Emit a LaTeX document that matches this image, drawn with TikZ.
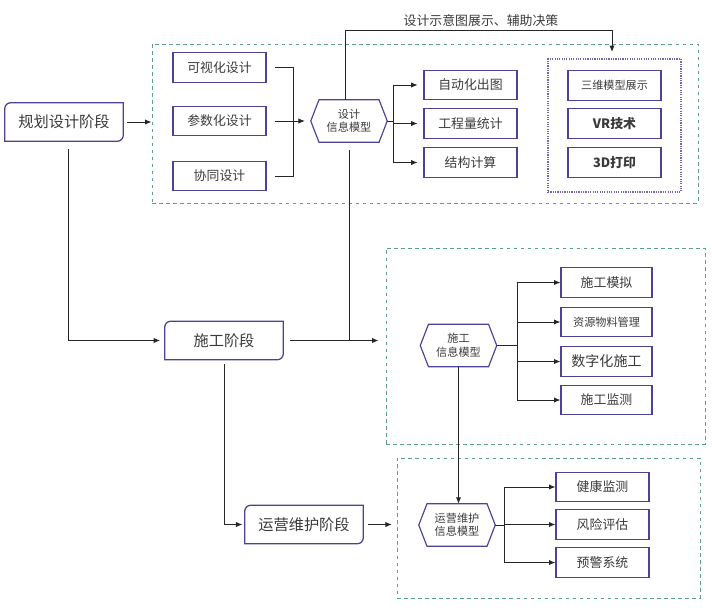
\documentclass[tikz,border=0pt]{standalone}
\usepackage{fontspec}
\usetikzlibrary{arrows.meta}
\setmainfont{Noto Sans CJK SC}
\definecolor{boxline}{HTML}{4B4396}
\definecolor{zoneline}{HTML}{5E9E8E}
\definecolor{txtgray}{HTML}{3A3A3A}
\definecolor{wire}{HTML}{262626}
\begin{document}
\begin{tikzpicture}[x=0.03cm,y=-0.03cm,>={Latex[length=5.5pt,width=4.5pt]}]
    \tikzstyle{itembox}=[rectangle,draw=boxline,line width=0.9pt,minimum width=2.79cm,minimum height=0.88cm,inner sep=0pt,text=txtgray,font=\fontsize{11}{13}\selectfont]
    \tikzstyle{stagebox}=[rectangle,minimum width=3.54cm,minimum height=1.14cm,inner sep=0pt,text=txtgray,font=\fontsize{13}{15}\selectfont]
    \tikzstyle{hexbox}=[rectangle,minimum width=2.28cm,minimum height=1.26cm,inner sep=0pt,align=center,text=txtgray,font=\fontsize{9.5}{11.5}\selectfont]
    \tikzstyle{zone}=[rectangle,draw=zoneline,dashed,line width=0.8pt,inner sep=0pt]
    \tikzstyle{wireline}=[draw=wire,line width=0.8pt]
    \useasboundingbox (0,0) rectangle (712,611);

    \node[zone,minimum width=16.38cm,minimum height=4.77cm] (designzone) at (425,123.5) {};
    \node[zone,minimum width=9.57cm,minimum height=5.88cm] (buildzone) at (545.5,346) {};
    \node[zone,minimum width=9.09cm,minimum height=4.2cm] (runzone) at (548.5,528) {};
    \node[rectangle,draw=boxline!80,densely dotted,line width=1pt,minimum size=3.99cm] (showzone) at (614.5,125.5) {};

    \node[stagebox] (plan)  at (64,122)    {规划设计阶段};
    \node[stagebox] (build) at (224,340.5) {施工阶段};
    \node[stagebox] (run)   at (304,524.5) {运营维护阶段};
    \foreach \s in {plan,build,run}
        \draw[draw=boxline,line width=1.1pt] (\s.north east) -- ([yshift=5pt]\s.south east)
            arc[start angle=0,end angle=-90,radius=5pt] -- (\s.south west)
            -- ([yshift=-5pt]\s.north west) arc[start angle=180,end angle=90,radius=5pt] -- cycle;

    \node[hexbox] (designhex) at (349,121)     {设计\\信息模型};
    \node[hexbox] (buildhex)  at (458.5,345.5) {施工\\信息模型};
    \node[hexbox] (runhex)    at (457,525)     {运营维护\\信息模型};
    \foreach \h in {designhex,buildhex,runhex}
        \draw[draw=boxline,line width=1pt] (\h.west) -- ([xshift=7pt]\h.north west) -- ([xshift=-7pt]\h.north east)
            -- (\h.east) -- ([xshift=-7pt]\h.south east) -- ([xshift=7pt]\h.south west) -- cycle;

    \node[itembox] (visual) at (219.5,67.5) {可视化设计};
    \node[itembox] (param)  at (219.5,121)  {参数化设计};
    \node[itembox] (coop)   at (219.5,176)  {协同设计};
    \node[itembox] (autodraw) at (470.5,85)    {自动化出图};
    \node[itembox] (quantity) at (470.5,123.5) {工程量统计};
    \node[itembox] (struct)   at (470.5,162.5) {结构计算};
    \node[itembox,font=\fontsize{9.5}{11}\selectfont] (threed) at (614.5,85.5) {三维模型展示};
    \node[itembox,font=\bfseries\fontsize{11}{13}\selectfont] (vr)    at (614.5,123.5) {VR技术};
    \node[itembox,font=\bfseries\fontsize{11}{13}\selectfont] (print) at (614.5,162.5) {3D打印};

    \node[itembox,minimum width=2.73cm] (simulate) at (606.5,282.5) {施工模拟};
    \node[itembox,minimum width=2.73cm,font=\fontsize{9.5}{11}\selectfont] (material) at (606.5,322) {资源物料管理};
    \node[itembox,minimum width=2.73cm,font=\fontsize{12}{14}\selectfont] (digital) at (606.5,361.5) {数字化施工};
    \node[itembox,minimum width=2.73cm] (monitor) at (606.5,400) {施工监测};

    \node[itembox] (health)  at (602.5,487)   {健康监测};
    \node[itembox] (risk)    at (602.5,524.5) {风险评估};
    \node[itembox] (warning) at (602.5,562.5) {预警系统};

    \node[text=txtgray,font=\fontsize{11}{13}\selectfont] (tip) at (481,21) {设计示意图展示、辅助决策};

    \coordinate (join)   at (293,121);
    \coordinate (dsplit) at (393,121);
    \coordinate (bsplit) at (517,345.5);
    \coordinate (rsplit) at (504,525);
    \coordinate (bend)   at (612,30);
    \coordinate (showtop) at (612,52);

    \draw[wireline,->] ([xshift=3pt]plan.east) -- (plan.east -| designzone.west);
    \draw[wireline] ([xshift=7pt]visual.east) -| (join);
    \draw[wireline] ([xshift=7pt]coop.east) -| (join);
    \draw[wireline,->] ([xshift=7pt]param.east) -- ([xshift=-5pt]designhex.west);
    \draw[wireline] (designhex.east) -- (dsplit);
    \foreach \n in {autodraw,quantity,struct}
        \draw[wireline,->] (dsplit) |- ([xshift=-5pt]\n.west);
    \draw[wireline,->] ([xshift=-3pt]designhex.north) |- (bend) -- (showtop);
    \draw[wireline] ([yshift=-7pt]designhex.south) -- (designhex.south |- build.east);

    \draw[wireline,->] ([xshift=4pt,yshift=-7pt]plan.south) |- ([xshift=-4pt]build.west);
    \draw[wireline,->] ([xshift=6pt]build.east) -- ([xshift=-6pt]build.east -| buildzone.west);
    \draw[wireline] (buildhex.east) -- (bsplit);
    \foreach \n in {simulate,material,digital,monitor}
        \draw[wireline,->] (bsplit) |- (\n.west);
    \draw[wireline,->] (buildhex.south) -- (buildhex.south |- runhex.north);

    \draw[wireline,->] ([yshift=-4pt]build.south) |- ([xshift=-2pt]run.west);
    \draw[wireline,->] ([xshift=4pt]run.east) -- ([xshift=-4pt]run.east -| runzone.west);
    \draw[wireline] (runhex.east) -- (rsplit);
    \foreach \n in {health,risk,warning}
        \draw[wireline,->] (rsplit) |- (\n.west);
\end{tikzpicture}
\end{document}
